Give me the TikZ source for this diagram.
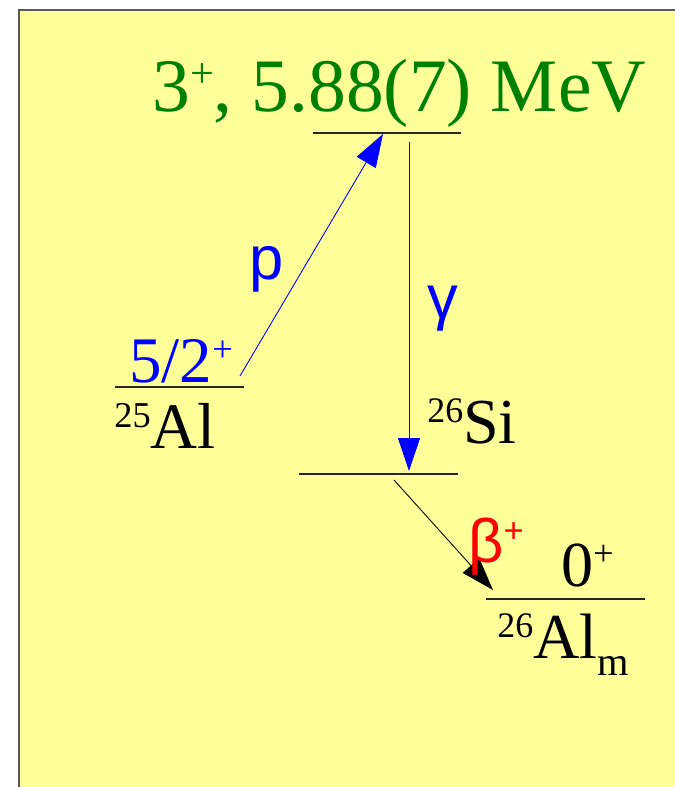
\documentclass[tikz,border=0pt]{standalone}
\usepackage{fontspec}
\setmainfont{Liberation Serif}
\newfontfamily\labsans{Liberation Sans}
\usetikzlibrary{arrows.meta}
\definecolor{sheet}{HTML}{FFFF99}
\definecolor{stategreen}{HTML}{008000}
\newcommand\sups[1]{\raisebox{.32em}{\scalebox{.56}{#1}}}
\tikzset{
  every node/.style={inner sep=0pt,anchor=base west},
  level/.style={draw=black!85,line width=.6pt},
  decay/.style={-{Triangle[length=.66cm,width=.44cm]},line width=.5pt},
  big/.style={font=\fontsize{43}{48}\selectfont},
  mid/.style={font=\fontsize{37}{40}\selectfont},
  small/.style={font=\fontsize{36.5}{38}\selectfont},
  greek/.style={font=\labsans\fontsize{35}{38}\selectfont}}

\begin{document}
\begin{tikzpicture}[x=.02cm,y=-.02cm]
\useasboundingbox (0,0) rectangle (674,787);
\filldraw[fill=sheet,draw=black!65,line width=.8pt] (19,10) rectangle (680,795);
% levels
\draw[level] (313,133) coordinate (top-l) -- (461,133) coordinate (top-r);
\draw[level] (115,387) coordinate (al-l) -- (244,387) coordinate (al-r);
\draw[level] (299,474) coordinate (si-l) -- (458,474) coordinate (si-r);
\draw[level] (486,599) coordinate (alm-l) -- (645,599) coordinate (alm-r);
% transitions
\coordinate (p-from) at (240,376); \coordinate (p-to) at (383,134);
\coordinate (g-from) at (409,142); \coordinate (g-to) at (409,471);
\coordinate (b-from) at (394,480); \coordinate (b-to) at (493,590);
\draw[decay,blue] (p-from) -- (p-to);
\draw[decay,blue] (g-from) -- (g-to);
\draw[decay,black] (b-from) -- (b-to);
% labels
\node[big,text=stategreen] (e-top) at (152,112) {3\sups{+}, 5.88(7) MeV};
\node[mid,text=blue] (jp-al) at (129,382) {5/2\sups{+}};
\node[mid] (n-al) at (114,448) {\sups{25}Al};
\node[greek,text=blue] (lab-p) at (249,279) {p};
\node[greek,text=blue] (lab-g) at (427,318) {γ};
\node[small] (n-si) at (427,443) {\sups{26}Si};
\node[greek,text=red] (lab-b) at (468,562) {β\sups{+}};
\node[small] (jp-alm) at (561,586) {0\sups{+}};
\node[small] (n-alm) at (497,658) {\sups{26}Al\raisebox{-.6ex}{\fontsize{23}{24}\selectfont m}};
\end{tikzpicture}
\end{document}
